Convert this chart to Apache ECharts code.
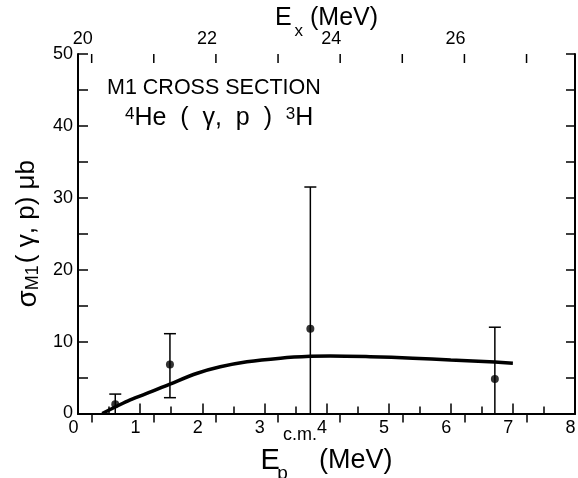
<!DOCTYPE html>
<html>
<head>
<meta charset="utf-8">
<script src="https://cdn.jsdelivr.net/npm/echarts@6/dist/echarts.min.js"></script>
<style>
html,body{margin:0;padding:0;background:#fff;}
#c{width:578px;height:478px;}
</style>
</head>
<body>
<div id="c"></div>
<script>
// Smooth M1 cross-section curve (Ep c.m. in MeV, sigma in microbarn)
const curveEp    = [0.39, 0.6, 0.84, 1.2, 1.48, 1.92, 2.29, 2.72, 3.26, 3.74, 4.06, 4.7, 5.39, 6.0, 6.71, 7.0];
const curveSigma = [0,    0.9, 1.9,  3.1, 4.1,  5.6,  6.5,  7.2,  7.7,  7.95, 8.0,  7.9, 7.7, 7.45, 7.15, 7.0];
// Data points with error bars
const pointEp    = [0.6, 1.48, 3.74, 6.71];
const pointSigma = [1.3, 6.8, 11.8, 4.8];
const errLow     = [0, 2.2, 0, 0];
const errHigh    = [2.7, 11.1, 31.5, 12.0];
// Axis ticks
const epTickLabels = [0, 1, 2, 3, 4, 5, 6, 7, 8];
const exOffset = 19.78; // Ex = Ep + threshold
const exTicks = [20, 21, 22, 23, 24, 25, 26, 27];
const exLabels = [20, 22, 24, 26];
const sigmaLabels = [0, 10, 20, 30, 40, 50];

const FONT = 'Liberation Sans';
const chart = echarts.init(document.getElementById('c'), null, {renderer: 'canvas'});

const axisLine = {show: true, lineStyle: {color: '#000', width: 2}};
const isInt = v => Math.abs(v - Math.round(v)) < 1e-6;

const option = {
  backgroundColor: '#fff',
  animation: false,
  grid: {left: 78, right: 3, top: 54, bottom: 64.5, show: false, containLabel: false, outerBoundsMode: 'none'},
  xAxis: [
    {
      type: 'value', position: 'bottom', min: 0, max: 8, interval: 1,
      axisLine: axisLine,
      axisTick: {show: true, inside: true, length: 10, lineStyle: {color: '#000', width: 1.5}},
      minorTick: {show: true, splitNumber: 2, length: 7, lineStyle: {color: '#000', width: 1.5}},
      splitLine: {show: false},
      axisLabel: {
        color: '#000', fontFamily: FONT, fontSize: 18, margin: 6, padding: [0, 9, 0, 0],
        formatter: v => epTickLabels.indexOf(v) >= 0 ? String(v) : ''
      },
      name: '{e|E}{sub|p}{sup|c.m.}{m|(MeV)}',
      nameLocation: 'middle', nameGap: 9, nameMoveOverlap: false,
      nameTextStyle: {
        fontFamily: FONT, color: '#000',
        rich: {
          e: {fontFamily: FONT, fontSize: 29, lineHeight: 76, verticalAlign: 'middle', color: '#000'},
          sub: {fontFamily: FONT, fontSize: 19, lineHeight: 19, verticalAlign: 'top', width: 1, padding: [42, 0, 0, 2], color: '#000'},
          sup: {fontFamily: FONT, fontSize: 18, lineHeight: 18, verticalAlign: 'top', padding: [4, 0, 0, 0], color: '#000'},
          m: {fontFamily: FONT, fontSize: 27, lineHeight: 27, verticalAlign: 'middle', padding: [0, 0, 0, 2], color: '#000'}
        }
      }
    },
    {
      type: 'value', position: 'top', min: exOffset, max: exOffset + 8, splitNumber: 8,
      axisLine: axisLine,
      axisTick: {show: true, inside: true, length: 9, lineStyle: {color: '#000', width: 1.5}},
      splitLine: {show: false},
      axisLabel: {
        color: '#000', fontFamily: FONT, fontSize: 18, margin: 6, padding: [0, 18, 0, 0],
        showMinLabel: false, showMaxLabel: false,
        formatter: v => (isInt(v) && exLabels.indexOf(Math.round(v)) >= 0) ? String(Math.round(v)) : ''
      },
      name: '{e|E}{sub|x}{m| (MeV)}',
      nameLocation: 'middle', nameGap: 23.5, nameMoveOverlap: false,
      nameTextStyle: {
        fontFamily: FONT, color: '#000',
        rich: {
          e: {fontFamily: FONT, fontSize: 25, lineHeight: 25, verticalAlign: 'top', color: '#000'},
          sub: {fontFamily: FONT, fontSize: 17, lineHeight: 17, verticalAlign: 'top', padding: [17, 0, 0, 3], color: '#000'},
          m: {fontFamily: FONT, fontSize: 25, lineHeight: 25, verticalAlign: 'top', color: '#000'}
        }
      }
    }
  ],
  yAxis: [
    {
      type: 'value', position: 'left', min: 0, max: 50, interval: 5,
      axisLine: axisLine,
      axisTick: {show: true, inside: true, length: 10, lineStyle: {color: '#000', width: 1.5}},
      splitLine: {show: false},
      axisLabel: {
        color: '#000', fontFamily: FONT, fontSize: 18, margin: 5,
        formatter: v => sigmaLabels.indexOf(v) >= 0 ? String(v) : ''
      },
      name: '{s|σ}{sub|M1}{m|( γ, p) μb}',
      nameLocation: 'middle', nameGap: 36, nameRotate: 90, nameMoveOverlap: false,
      nameTextStyle: {
        fontFamily: FONT, color: '#000',
        rich: {
          s: {fontFamily: FONT, fontSize: 28, lineHeight: 28, verticalAlign: 'top', color: '#000'},
          sub: {fontFamily: FONT, fontSize: 18, lineHeight: 18, verticalAlign: 'bottom', color: '#000'},
          m: {fontFamily: FONT, fontSize: 26, lineHeight: 26, verticalAlign: 'top', padding: [0, 0, 0, 2], color: '#000'}
        },
        lineHeight: 36
      }
    },
    {
      type: 'value', position: 'right', min: 0, max: 50, interval: 5,
      axisLine: axisLine,
      axisTick: {show: true, inside: true, length: 9, lineStyle: {color: '#000', width: 1.5}},
      splitLine: {show: false},
      axisLabel: {show: false}
    }
  ],
  graphic: [
    {type: 'text', left: 107, top: 77, style: {text: 'M1 CROSS SECTION', font: '21.5px "Liberation Sans"', fill: '#000'}},
    {type: 'text', left: 125, top: 106, style: {
      text: '{sup|4}{m|He  (  γ,  p  )  }{sup|3}{m|H}',
      rich: {
        sup: {fontFamily: FONT, fontSize: 17, lineHeight: 17, verticalAlign: 'top', fill: '#000'},
        m: {fontFamily: FONT, fontSize: 25, lineHeight: 25, verticalAlign: 'bottom', fill: '#000'}
      },
      lineHeight: 31, fill: '#000'
    }}
  ],
  series: [
    {
      // top-axis (Ex) tick marks, placed through the top axis scale
      type: 'custom', xAxisIndex: 1, yAxisIndex: 0, silent: true,
      data: exTicks.map(v => [v]),
      renderItem: function (params, api) {
        const p = api.coord([api.value(0), 50]);
        return {type: 'line', shape: {x1: p[0], y1: p[1], x2: p[0], y2: p[1] + 9},
                style: {stroke: '#000', lineWidth: 1.5}};
      },
      z: 5
    },
    {
      type: 'line', xAxisIndex: 0, yAxisIndex: 0,
      data: curveEp.map((x, i) => [x, curveSigma[i]]),
      smooth: 0.35, symbol: 'none',
      lineStyle: {color: '#000', width: 3.5}
    },
    {
      type: 'custom', xAxisIndex: 0, yAxisIndex: 0,
      data: pointEp.map((x, i) => [x, errLow[i], errHigh[i]]),
      renderItem: function (params, api) {
        const x = api.value(0);
        const lo = api.coord([x, api.value(1)]);
        const hi = api.coord([x, api.value(2)]);
        const hw = 6;
        const style = {stroke: '#000', lineWidth: 1.5};
        const children = [
          {type: 'line', shape: {x1: lo[0], y1: lo[1], x2: hi[0], y2: hi[1]}, style: style},
          {type: 'line', shape: {x1: hi[0] - hw, y1: hi[1], x2: hi[0] + hw, y2: hi[1]}, style: style}
        ];
        if (api.value(1) > 0) {
          children.push({type: 'line', shape: {x1: lo[0] - hw, y1: lo[1], x2: lo[0] + hw, y2: lo[1]}, style: style});
        }
        return {type: 'group', children: children};
      },
      z: 3
    },
    {
      type: 'scatter', xAxisIndex: 0, yAxisIndex: 0,
      data: pointEp.map((x, i) => [x, pointSigma[i]]),
      symbol: 'circle', symbolSize: 8,
      itemStyle: {color: '#000'}, z: 4
    }
  ]
};
chart.setOption(option);
</script>
</body>
</html>
